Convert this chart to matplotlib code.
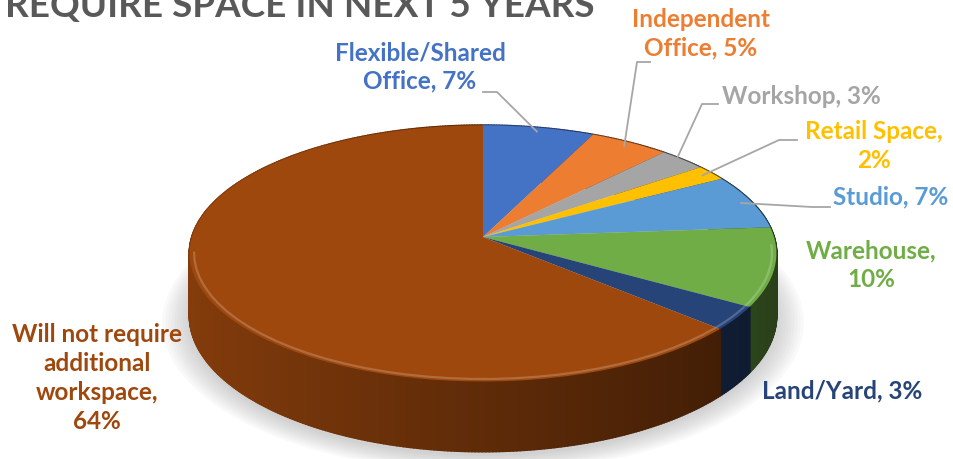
import numpy as np
import matplotlib
matplotlib.use("Agg")
import matplotlib.pyplot as plt
import matplotlib.transforms as mtransforms
from matplotlib.collections import PolyCollection

# data
labels = ["Flexible/Shared\nOffice", "Independent\nOffice", "Workshop", "Retail Space,\n",
          "Studio", "Warehouse,\n", "Land/Yard", "Will not require\nadditional\nworkspace,\n"]
values = [7, 5, 3, 2, 7, 10, 3, 64]
colors = ["#4472C4", "#ED7D31", "#A5A5A5", "#FFC000", "#5B9BD5", "#70AD47", "#264478", "#9E480E"]
title = "REQUIRE SPACE IN NEXT 5 YEARS"

plt.rcParams['font.family'] = ['Lato', 'DejaVu Sans']

# 3d pie geometry (pixels)
CX, CY, RX, RY, P, DEPTH = 483, 237, 291, 126, 0.128, 61


def project(u, v, z=0.0):
    f = 1.0 / (1.0 + P * v)
    return CX + RX * u * f, CY + (-RY * v + DEPTH * z) * f


class Persp(mtransforms.Transform):
    input_dims = 2
    output_dims = 2

    def transform_non_affine(self, values):
        values = np.asarray(values, dtype=float)
        x, y = project(values[:, 0], values[:, 1])
        return np.column_stack([x, y])


fig = plt.figure(figsize=(9.54, 4.59), dpi=100)
ax = fig.add_axes([0, 0, 1, 1])

total = float(sum(values))
bounds = 90 - 360 * np.concatenate([[0], np.cumsum(values)]) / total

# soft shadow under the pie
t = np.linspace(0, 2 * np.pi, 200)
for k in range(10):
    s = 1.0 + 0.01 * k
    sx, sy = project(s * np.cos(t), s * np.sin(t) - 0.01, 1.04)
    ax.fill(sx, sy, color="#7f7f7f", alpha=0.04, lw=0, zorder=1)

# side walls, shaded with light from the left
quads, qcols, depth = [], [], []
for i, c in enumerate(colors):
    base = np.array(matplotlib.colors.to_rgb(c))
    th = np.radians(np.linspace(bounds[i], bounds[i + 1], max(4, int(values[i] * 6))))
    for a0, a1 in zip(th[:-1], th[1:]):
        xa, ya = project(np.cos([a0, a1]), np.sin([a0, a1]), 0)
        xb, yb = project(np.cos([a1, a0]), np.sin([a1, a0]), 1)
        quads.append(np.column_stack([np.r_[xa, xb], np.r_[ya, yb]]))
        am = 0.5 * (a0 + a1)
        fac = 0.60 - 0.24 * np.cos(am)
        qcols.append(np.clip(base * fac, 0, 1))
        depth.append(np.sin(am))
order = np.argsort(depth)[::-1]
pc = PolyCollection([quads[j] for j in order], facecolors=[qcols[j] for j in order],
                    edgecolors=[qcols[j] for j in order], linewidths=1.5, zorder=2)
ax.add_collection(pc)

# top face
wedges, _ = ax.pie(values, colors=colors, startangle=90, counterclock=False,
                   wedgeprops=dict(linewidth=0))
tr = Persp() + ax.transData
for w in wedges:
    w.set_transform(tr)
    w.set_zorder(3)

# bevel highlight along the front rim
for i, c in enumerate(colors):
    th = np.radians(np.linspace(bounds[i], bounds[i + 1], 60))
    th = th[np.sin(th) < -0.05]
    if len(th) < 2:
        continue
    light = 0.6 * np.array(matplotlib.colors.to_rgb(c)) + 0.4
    hx, hy = project(0.985 * np.cos(th), 0.985 * np.sin(th), 0)
    ax.plot(hx, hy, color=light, lw=1.6, alpha=0.5, zorder=4, solid_capstyle='butt')

ax.set_xlim(0, 954)
ax.set_ylim(459, 0)
ax.set_aspect('auto')
ax.axis('off')

# labels
fs = 17.5
lab_pos = [(420, 67, 'center'), (701, 34, 'center'), (722, 96, 'left'), (874, 146, 'center'),
           (833, 197, 'left'), (871, 265, 'center'), (762, 391, 'left'), (97, 378, 'center')]
elbows = [((483, 92), (497, 92)), ((650, 62), (637, 62)), ((718, 104), (702, 104)),
          ((797, 140), (779, 140)), ((830, 207), (812, 207)), None, None, None]
mids = 0.5 * (bounds[:-1] + bounds[1:])
for i, (lab, v, c) in enumerate(zip(labels, values, colors)):
    x, y, ha = lab_pos[i]
    sep = "" if lab.endswith("\n") else ", "
    ax.text(x, y, f"{lab}{sep}{v}%", color=c, fontsize=fs, fontweight='bold',
            ha=ha, va='center', multialignment='center', linespacing=1.3, zorder=6)
    if elbows[i] is not None:
        a = np.radians(mids[i])
        px, py = project(0.96 * np.cos(a), 0.96 * np.sin(a), 0)
        (e0x, e0y), (e1x, e1y) = elbows[i]
        ax.plot([e0x, e1x, px], [e0y, e1y, py], color="#A6A6A6", lw=1.3, zorder=5)

fig.text(5 / 954, 1 - 17 / 459, title, color="#595959", fontsize=26.6, fontweight='bold',
         ha='left', va='baseline')

fig.savefig("out.png", dpi=100)
